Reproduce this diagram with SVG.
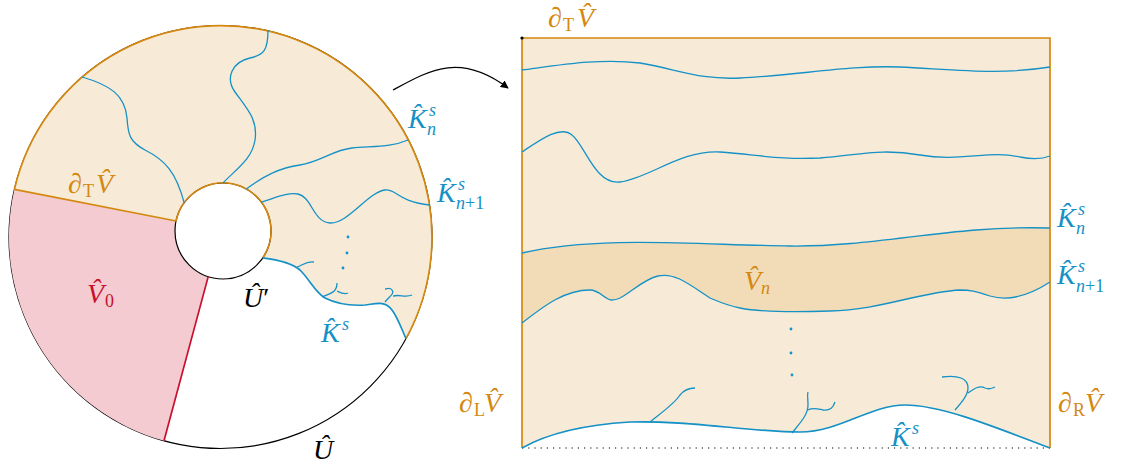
<svg xmlns="http://www.w3.org/2000/svg" width="1126" height="467" viewBox="0 0 1126 467">
<defs>
<style>
.t{font-family:"Liberation Serif","DejaVu Serif",serif;font-size:28px}
.i{font-style:italic}
.sb{font-size:18px;font-style:normal}
.si{font-size:18px;font-style:italic}
.org{fill:#d4880f}
.blu{fill:#1591c6}
.red{fill:#c8102e}
.blk{fill:#000}
.bl{fill:none;stroke:#1591c6;stroke-width:1.3}
.blt{fill:none;stroke:#1591c6;stroke-width:1.7}
.or{fill:none;stroke:#d4880f;stroke-width:1.7}
</style>
<marker id="ah" viewBox="0 0 10 10" refX="9" refY="5" markerWidth="8" markerHeight="8" orient="auto-start-reverse" markerUnits="userSpaceOnUse">
<path d="M0,0 L10,5 L0,10 z" fill="#000"/>
</marker>
</defs>

<g id="disk">
<circle cx="220.5" cy="237" r="211.5" fill="#fff" stroke="#000" stroke-width="1.2"/>
<path d="M14.4,189.4 A211.5,211.5 0 1 1 406,338.6 C402,330 398,318 392,310 C385,300 375,304 365,305 C350,306 335,303 325,298 C315,292 310,280 300,270 C292,263 280,260 262.8,257.8 A48,48 0 1 0 176.05,221 Z" fill="#f7ebd8"/>
<path d="M14.4,189.4 L176.05,221 A48,48 0 0 0 208.2,276.6 L164,440.8 A211.5,211.5 0 0 1 14.4,189.4 Z" fill="#f3cbd1"/>
<circle cx="223" cy="231" r="48" fill="#fff" stroke="#000" stroke-width="1.2"/>
<path class="or" d="M14.4,189.4 A211.5,211.5 0 1 1 406,338.6"/>
<path class="or" d="M176.05,221 A48,48 0 1 1 262.8,257.8"/>
<path class="or" d="M14.4,189.4 L176.05,221"/>
<path d="M208.2,276.6 L164,440.8" fill="none" stroke="#c8102e" stroke-width="1.7"/>
</g>

<g id="disk-curves">
<path class="bl" d="M82,77 C110,85 125,95 127,118 C128,135 130,142 145,150 C165,160 176,172 184.2,202.8"/>
<path class="bl" d="M268,30 C268,50 264,55 250,58 C232,62 225,78 235,92 C248,110 258,120 255,140 C252,160 235,170 223,183"/>
<path class="bl" d="M246.3,189 C265,175 280,168 300,165 C320,162 333,150 352,148 C375,146 392,147 408,140"/>
<path class="bl" d="M261.3,202.1 C275,198 288,192 298,194 C312,197 313,222 330,223 C348,224 368,192 385,190 C397,189 398,202 430,205"/>
<path class="blt" d="M262.8,257.8 C280,260 292,263 300,270 C310,280 315,292 325,298 C335,303 350,306 365,305 C375,304 385,300 392,310 C398,318 402,330 406,338.6"/>
<path class="bl" d="M297,267 C303,265 306,261 314,262"/>
<path class="bl" d="M322,297 C330,293 337,293 337,283 M337,291 C341,293 344,295 348,293"/>
<path class="bl" d="M385,302 C390,296 395,293 392,290 C390,287 386,289 385,289 M393,296 C400,294 405,298 412,295"/>
<circle cx="348" cy="237" r="1.4" fill="#1591c6"/>
<circle cx="347" cy="253" r="1.4" fill="#1591c6"/>
<circle cx="343" cy="268" r="1.4" fill="#1591c6"/>
</g>

<g id="disk-labels">
<text class="t org" x="68" y="193">∂<tspan class="sb" x="83" y="197">T</tspan><tspan class="i" x="96" y="193">V̂</tspan></text>
<text class="t red" x="87" y="303"><tspan class="i">V̂</tspan><tspan class="sb" x="105" y="307">0</tspan></text>
<text class="t blk" x="243" y="307"><tspan class="i">Û</tspan>′</text>
<text class="t blu" x="321" y="342"><tspan class="i">K̂</tspan><tspan class="si" x="342" y="330">s</tspan></text>
<text class="t blk i" x="313" y="459">Û</text>
<text class="t blu" x="408" y="128"><tspan class="i">K̂</tspan><tspan class="si" x="429" y="116">s</tspan><tspan class="si" x="427" y="135">n</tspan></text>
<text class="t blu" x="437" y="202"><tspan class="i">K̂</tspan><tspan class="si" x="458" y="190">s</tspan><tspan class="si" x="456" y="209">n</tspan><tspan class="sb">+1</tspan></text>
</g>

<g id="connectors">
<path d="M393,90 C430,70 460,52 508,88" fill="none" stroke="#000" stroke-width="1.2" marker-end="url(#ah)"/>
</g>

<g id="rect">
<path d="M522,38 H1050 V448 C990,425 940,405 905,405 C870,405 840,432 800,432 C750,432 690,420 630,422 C580,425 545,435 522,448 Z" fill="#f7ebd8"/>
<path d="M522,253 C600,235 700,245 790,246 C880,247 950,225 1050,228 L1050,282 C1030,295 1010,302 990,296 C975,291 970,290 960,290 C920,292 880,310 830,311 C800,312 760,312 740,308 C725,305 715,300 710,298 C690,285 675,272 658,276 C640,280 625,300 612,300 C605,300 600,290 590,290 C565,290 545,305 522,323 Z" fill="#f1dcb7"/>
<path class="or" d="M522,448 V38 H1050 V448"/>
<path d="M522,448 H1050" fill="none" stroke="#000" stroke-width="1.2" stroke-dasharray="1.2,5"/>
<circle cx="522" cy="38" r="1.6" fill="#000"/>
</g>

<g id="rect-curves">
<path class="bl" d="M522,70 C560,65 600,58 640,63 C680,70 700,80 740,78 C800,75 850,65 900,67 C960,70 1000,75 1050,67"/>
<path class="bl" d="M522,152 C540,140 560,125 572,135 C585,145 595,185 620,182 C650,178 680,150 720,152 C760,155 780,160 820,158 C860,155 880,148 920,155 C960,162 990,150 1020,157 C1035,160 1045,158 1050,156"/>
<path class="bl" d="M522,253 C600,235 700,245 790,246 C880,247 950,225 1050,228"/>
<path class="bl" d="M522,323 C545,305 565,290 590,290 C600,290 605,300 612,300 C625,300 640,280 658,276 C675,272 690,285 710,298 C715,300 725,305 740,308 C760,312 800,312 830,311 C880,310 920,292 960,290 C970,290 975,291 990,296 C1010,302 1030,295 1050,282"/>
<path class="blt" d="M522,448 C545,435 580,425 630,422 C690,420 750,432 800,432 C840,432 870,405 905,405 C940,405 990,425 1050,448"/>
<path class="bl" d="M650,422 C665,410 675,403 680,395 C684,390 690,388 695,388"/>
<path class="bl" d="M792,433 C800,423 808,415 808,405 C808,398 807,395 808,392 M808,410 C813,407 818,409 823,410 C830,411 833,408 835,402"/>
<path class="bl" d="M955,410 C962,402 968,395 968,388 C968,378 958,375 942,377 M968,393 C975,388 980,385 985,388 C990,390 992,388 995,387"/>
<circle cx="791" cy="329" r="1.4" fill="#1591c6"/>
<circle cx="791" cy="353" r="1.4" fill="#1591c6"/>
<circle cx="792" cy="375" r="1.4" fill="#1591c6"/>
</g>

<g id="rect-labels">
<text class="t org" x="548" y="27">∂<tspan class="sb" x="563" y="31">T</tspan><tspan class="i" x="577" y="27">V̂</tspan></text>
<text class="t org" x="459" y="412">∂<tspan class="sb" x="474" y="416">L</tspan><tspan class="i" x="484" y="412">V̂</tspan></text>
<text class="t org" x="1058" y="412">∂<tspan class="sb" x="1073" y="416">R</tspan><tspan class="i" x="1085" y="412">V̂</tspan></text>
<text class="t org" x="744" y="290"><tspan class="i">V̂</tspan><tspan class="si" x="761" y="294">n</tspan></text>
<text class="t blu" x="1057" y="227"><tspan class="i">K̂</tspan><tspan class="si" x="1078" y="215">s</tspan><tspan class="si" x="1076" y="234">n</tspan></text>
<text class="t blu" x="1057" y="284"><tspan class="i">K̂</tspan><tspan class="si" x="1078" y="272">s</tspan><tspan class="si" x="1076" y="292">n</tspan><tspan class="sb">+1</tspan></text>
<text class="t blu" x="891" y="446"><tspan class="i">K̂</tspan><tspan class="si" x="912" y="434">s</tspan></text>
</g>
</svg>
